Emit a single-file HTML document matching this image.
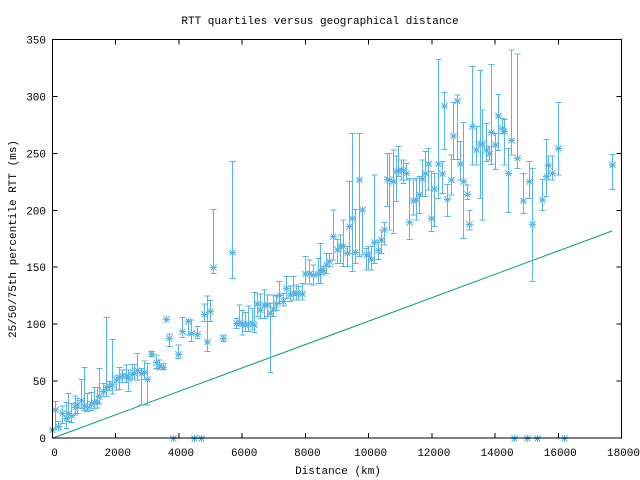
<!DOCTYPE html>
<html><head><style>
html,body{margin:0;padding:0;background:#fff;}
svg{display:block;}
text{font-family:"Liberation Mono","DejaVu Sans Mono",monospace;font-size:11px;fill:#000;}
</style></head><body>
<svg id="s" width="640" height="480" xmlns="http://www.w3.org/2000/svg">
<rect width="640" height="480" fill="#fff"/>
<text x="320" y="24" text-anchor="middle">RTT quartiles versus geographical distance</text>
<text x="338" y="474" text-anchor="middle">Distance (km)</text>
<text transform="translate(16,239) rotate(-90)" text-anchor="middle">25/50/75th percentile RTT (ms)</text>
<g id="ax" shape-rendering="crispEdges"></g>
<line x1="53" y1="438" x2="612" y2="231" stroke="#009e73" stroke-width="1"/>
<g id="pts" stroke="#56b4e9" stroke-width="1" fill="none" shape-rendering="crispEdges"></g>
<rect x="52.5" y="39.5" width="569" height="398.5" fill="none" stroke="#000" stroke-width="1" shape-rendering="crispEdges"/>
</svg>
<script>
var NS="http://www.w3.org/2000/svg",ax=document.getElementById('ax'),P=document.getElementById('pts');
function el(p,t,a,txt){var e=document.createElementNS(NS,t);for(var k in a)e.setAttribute(k,a[k]);if(txt)e.textContent=txt;p.appendChild(e);return e;}
var L=52.5,R=621.5,T=39.5,B=438;
for(var i=0;i<=9;i++){var x=L+(R-L)*i/9;
 el(ax,'line',{x1:x,y1:B,x2:x,y2:B-5,stroke:'#000'});el(ax,'line',{x1:x,y1:T,x2:x,y2:T+5,stroke:'#000'});
 el(ax,'text',{x:x+2,y:456,'text-anchor':'middle'},String(i*2000));}
for(var j=0;j<=7;j++){var y=B-(B-T)*j/7;
 el(ax,'line',{x1:L,y1:y,x2:L+5,y2:y,stroke:'#000'});el(ax,'line',{x1:R,y1:y,x2:R-5,y2:y,stroke:'#000'});
 el(ax,'text',{x:46,y:y+4,'text-anchor':'end'},String(j*50));}
var a=[[155,1290],[165,1230,1205,1290],[175,1280,1265,1290],[185,1240,1218,1270],[197,1255,1208,1285],[205,1240,1180,1265],[213,1248,1210,1268],[225,1222,1188,1245],[232,1215,1196,1240],[242,1202,1138,1226],[253,1218,1103,1232],[262,1222,1180,1234],[272,1212,1178,1232],[282,1208,1162,1226],[290,1206,1162,1224],[298,1190,1106,1212],[308,1174,1150,1190],[318,1162,953,1190],[326,1158,1145,1172],[337,1155,1018,1182],[347,1140,1128,1170],[357,1132,1103,1168],[367,1128,1110,1148],[377,1128,1095,1148],[385,1136,1110,1175],[395,1124,1094,1140],[403,1120,1094,1140],[412,1112,1060,1140],[422,1120,1105,1215],[433,1118,1083,1138],[442,1138,1090,1215],[452,1062,1055,1070],[468,1088,1065,1105],[478,1100,1080,1108],[490,1102,1090,1108],[499,958],[508,1015,1002,1040],[518,1315],[535,1063,1035,1075],[546,995,952,1012],[563,965,960,1005],[572,1000,960,1025],[582,1315],[591,1003,980,1015],[603,1315],[613,943,912,965],[622,1026,888,1055],[631,935,902,965],[640,802,628,820],[670,1015,1005,1025],[697,757,485,835],[707,970,955,985],[716,967,915,978],[727,972,932,1005],[735,975,937,995],[745,972,918,995],[756,972,925,990],[763,975,878,998],[770,912,882,950],[780,930,882,955],[793,915,870,955],[800,915,885,950],[810,940,910,1117],[820,927,885,950],[827,912,888,932],[837,887,845,910],[848,905,880,918],[857,865,830,895],[870,885,858,905],[878,880,830,900],[887,880,855,900],[895,880,860,900],[905,882,850,900],[915,822,770,852],[928,822,780,852],[940,825,795,855],[955,822,775,850]];
var b=[[0,812,730,850],[8,812,800,825],[18,795,760,820],[28,785,760,800],[40,710,630,780],[50,750,718,790],[60,738,705,790],[70,740,660,800],[80,760,740,800],[88,680,545,760],[97,655,400,815],[105,757,628,790],[118,540,400,770],[127,630,630,765],[137,765,745,810],[145,765,740,810],[153,778,740,810],[163,727,525,790],[173,752,720,778],[183,720,690,760],[193,690,668,735],[200,538,460,620],[208,540,460,690],[218,545,450,700],[228,515,468,605],[235,512,440,530],[243,510,480,540],[250,512,480,550],[258,520,490,540],[268,668,535,718],[278,603,540,645],[288,600,535,660],[297,583,530,640],[307,537,480,590],[315,520,455,590],[325,492,445,570],[333,655,515,695],[343,567,520,680],[355,492,178,595],[365,522,485,580],[373,318,278,448],[382,598,553,650],[392,540,465,585],[400,408,308,478],[410,303,285,478],[420,492,425,540],[430,545,368,715],[440,583,555,598],[448,673,632,690],[457,380,200,495],[467,450,380,495],[480,432,212,595],[487,432,330,660],[497,450,370,485],[506,462,440,480],[513,398,193,493],[524,435,400,508],[535,348,283,452],[545,385,355,400],[553,395,358,495],[563,520,445,637],[572,422,150,465],[583,1315],[592,475,162,505],[610,603,520,640],[620,1315],[628,545,485,595],[637,673,505,845],[650,1315],[667,600,538,632],[677,530,418,590],[685,497,468,540],[695,520,468,540],[715,445,307,525],[733,1315],[877,495,463,568]];
b.forEach(function(p){p[0]+=960;a.push(p);});
a.forEach(function(p){var x=Math.round(p[0]/3)+0.5,y=p[1]/3;
 if(p.length>2){var t=p[2]/3,bt=p[3]/3;
  el(P,'line',{x1:x,y1:t,x2:x,y2:bt});el(P,'line',{x1:x-3,y1:t,x2:x+3,y2:t});el(P,'line',{x1:x-3,y1:bt,x2:x+3,y2:bt});}
 el(P,'path',{d:'M'+(x-3.5)+' '+y+'h7M'+x+' '+(y-3.5)+'v7M'+(x-3)+' '+(y-3)+'l6 6M'+(x-3)+' '+(y+3)+'l6 -6'});
});
</script>
</body></html>
